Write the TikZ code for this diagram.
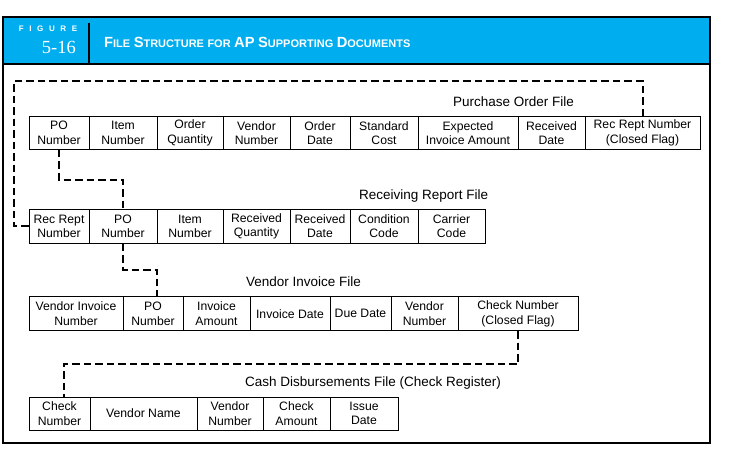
\documentclass[tikz,border=0pt]{standalone}
\usepackage{fontspec}
\setmainfont{Liberation Sans}
\newfontfamily\numfont{Liberation Serif}
\definecolor{figblue}{HTML}{00AEEF}
\newcommand{\hcap}[2]{{\fontsize{14.7}{14.7}\selectfont #1}{\fontsize{11}{11}\selectfont #2}}
\begin{document}
\begin{tikzpicture}[x=1pt,y=-1pt]
    \tikzstyle{every node}+=[inner sep=0pt]
    \tikzstyle{field}=[draw=black, line width=0.7pt, align=center, font=\fontsize{12.2}{14.5}\selectfont]
    \tikzstyle{filelabel}=[anchor=base west, font=\fontsize{13.5}{13.5}\selectfont]
    \tikzstyle{link}=[black, line width=2pt, dash pattern=on 7.5pt off 4pt]
    \useasboundingbox (0,0) rectangle (737,455);
    \fill [figblue] (3,17) rectangle (710,64);
    \draw [black, line width=1.2pt] (3,17) rectangle (710,443);
    \draw [black, line width=2pt] (2.4,17) -- (710.6,17);
    \draw [black, line width=2pt] (2.4,64) -- (710.6,64);
    \draw [black, line width=2pt] (2.4,443) -- (710.6,443);
    \draw [black, line width=2.6pt] (89,23) -- (89,64);
    \node [anchor=base, text=white, font=\fontsize{8}{8}\selectfont\bfseries] (fig) at (48,31) {F\hspace{5.6pt}I\hspace{5.6pt}G\hspace{5.6pt}U\hspace{5.6pt}R\hspace{5.6pt}E};
    \node [anchor=base east, text=white, font=\numfont\fontsize{18.5}{18.5}\selectfont] (fignum) at (76,53.3) {5-16};
    \node [anchor=base west, text=white, font=\fontsize{12.5}{12.5}\selectfont\bfseries] (title) at (104,47.3) {\hcap{F}{ILE} \hcap{S}{TRUCTURE} {\fontsize{11}{11}\selectfont FOR} \hcap{AP}{} \hcap{S}{UPPORTING} \hcap{D}{OCUMENTS}};
    \node [filelabel] (polabel) at (453,106) {Purchase Order File};
    \node [field, minimum height=32.5pt, minimum width=60pt] (p1) at (59,133) {PO\\Number};
    \node [field, minimum height=32.5pt, minimum width=68pt] (p2) at (123,133) {Item\\Number};
    \node [field, minimum height=32.5pt, minimum width=66pt] (p3) at (190,133) {Order\\Quantity};
    \node [field, minimum height=32.5pt, minimum width=67pt] (p4) at (256.5,133) {Vendor\\Number};
    \node [field, minimum height=32.5pt, minimum width=60pt] (p5) at (320,133) {Order\\Date};
    \node [field, minimum height=32.5pt, minimum width=68pt] (p6) at (384,133) {Standard\\Cost};
    \node [field, minimum height=32.5pt, minimum width=100pt] (p7) at (468,133) {Expected\\Invoice Amount};
    \node [field, minimum height=32.5pt, minimum width=67pt] (p8) at (551.5,133) {Received\\Date};
    \node [field, minimum height=32.5pt, minimum width=115pt] (p9) at (642.5,133) {Rec Rept Number\\(Closed Flag)};
    \node [filelabel] (rrlabel) at (359,199) {Receiving Report File};
    \node [field, minimum height=34pt, minimum width=60pt] (r1) at (59,226.3) {Rec Rept\\Number};
    \node [field, minimum height=34pt, minimum width=68pt] (r2) at (123,226.3) {PO\\Number};
    \node [field, minimum height=34pt, minimum width=66pt] (r3) at (190,226.3) {Item\\Number};
    \node [field, minimum height=34pt, minimum width=67pt] (r4) at (256.5,226.3) {Received\\Quantity};
    \node [field, minimum height=34pt, minimum width=60pt] (r5) at (320,226.3) {Received\\Date};
    \node [field, minimum height=34pt, minimum width=68pt] (r6) at (384,226.3) {Condition\\Code};
    \node [field, minimum height=34pt, minimum width=67pt] (r7) at (451.5,226.3) {Carrier\\Code};
    \node [filelabel] (vilabel) at (246,286) {Vendor Invoice File};
    \node [field, minimum height=34pt, minimum width=94pt] (v1) at (76,313.7) {Vendor Invoice\\Number};
    \node [field, minimum height=34pt, minimum width=60pt] (v2) at (153,313.7) {PO\\Number};
    \node [field, minimum height=34pt, minimum width=67pt] (v3) at (216.5,313.7) {Invoice\\Amount};
    \node [field, minimum height=34pt, minimum width=80pt] (v4) at (290,313.7) {Invoice Date};
    \node [field, minimum height=34pt, minimum width=61pt] (v5) at (360.5,313.7) {Due Date};
    \node [field, minimum height=34pt, minimum width=67pt] (v6) at (424.5,313.7) {Vendor\\Number};
    \node [field, minimum height=34pt, minimum width=120pt] (v7) at (518,313.7) {Check Number\\(Closed Flag)};
    \node [filelabel] (cdlabel) at (245,386) {Cash Disbursements File (Check Register)};
    \node [field, minimum height=33.3pt, minimum width=61pt] (k1) at (59.5,413.5) {Check\\Number};
    \node [field, minimum height=33.3pt, minimum width=107pt] (k2) at (143.5,413.5) {Vendor Name};
    \node [field, minimum height=33.3pt, minimum width=66pt] (k3) at (230,413.5) {Vendor\\Number};
    \node [field, minimum height=33.3pt, minimum width=67pt] (k4) at (296.5,413.5) {Check\\Amount};
    \node [field, minimum height=33.3pt, minimum width=68pt] (k5) at (364,413.5) {Issue\\Date};
    \coordinate (loopcorner) at (14,81);
    \draw [link] (p9.north) |- (loopcorner) |- (r1.west);
    \draw [link] (p1.south) -- ++(0,30) -| (r2.north);
    \draw [link] (r2.south) -- ++(0,26) -| ([xshift=4pt]v2.north);
    \draw [link] (v7.south) -- ++(0,33) -| ([xshift=4pt]k1.north);
\end{tikzpicture}
\end{document}
